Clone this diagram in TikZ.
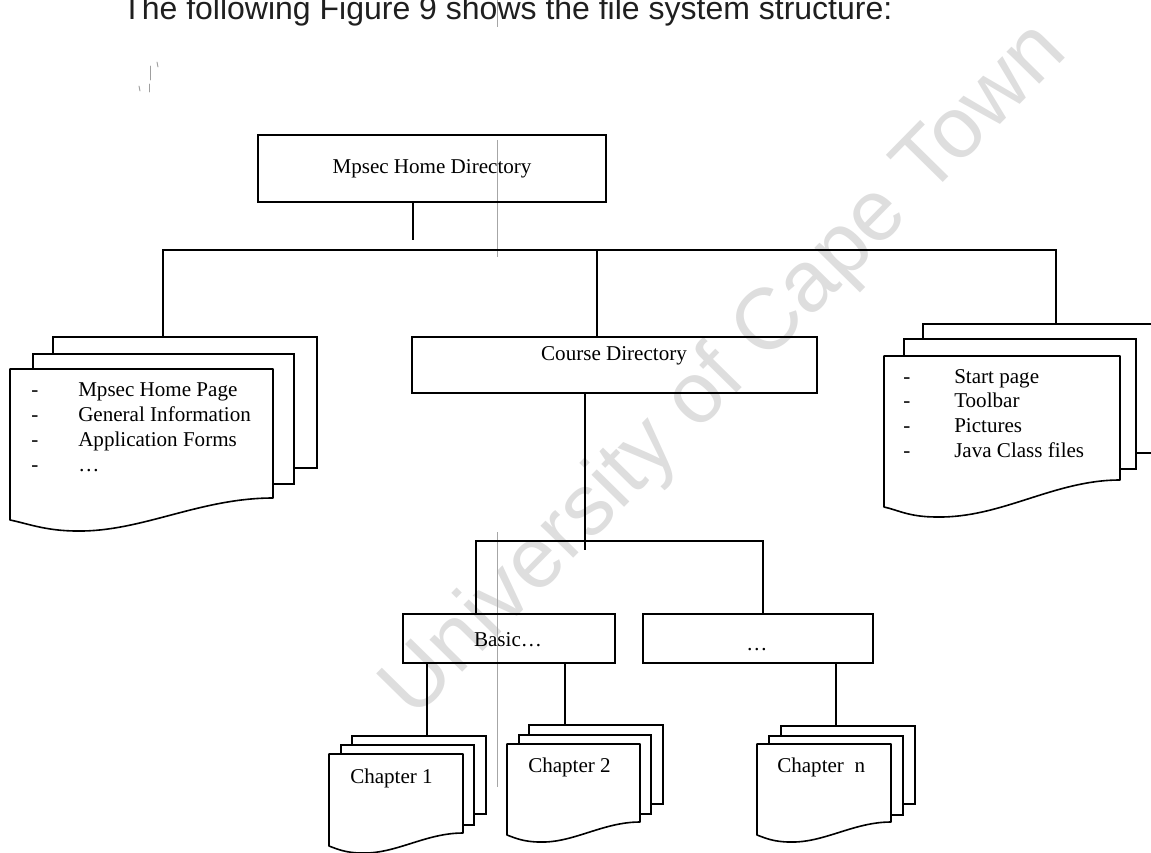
\documentclass[tikz,border=0pt]{standalone}
\usepackage{fontspec}
\setmainfont{Liberation Serif}
\newfontfamily\headfont{Liberation Sans}
\newcommand\pxu{0.75pt}
\newcommand\boxsize{\fontsize{15.8pt}{19pt}\selectfont}
\newcommand\headsize{\fontsize{24pt}{28pt}\selectfont}
\newcommand\wmsize{\fontsize{65pt}{70pt}\selectfont}

% front sheet of a document stack: left, top, right, right-bottom, left-bottom, dip depth, dip x
\newcommand\frontsheet[7]{%
  \draw[sheetline] (#1,#5) -- (#1,#2) -- (#3,#2) -- (#3,#4)
    .. controls ({#3-0.28*(#3-#1)},#4) and ({#1+0.5*(#3-#1)},{#6+1}) .. (#7,#6)
    .. controls ({#7-0.12*(#3-#1)},#6) and ({#1+0.06*(#3-#1)},{#5+3}) .. (#1,#5) -- cycle;}

\begin{document}
\begin{tikzpicture}[x=0.75pt,y=-0.75pt,
  wire/.style={line width=1.2pt, black},
  dirbox/.style={draw, line width=1.2pt, rectangle, inner sep=0pt},
  sheet/.style={draw, fill=white, line width=1.2pt, rectangle, inner sep=0pt, anchor=north west},
  sheetline/.style={draw, fill=white, line width=1.2pt, line join=round},
  txt/.style={font=\boxsize, inner sep=0pt},
  item/.style={txt, anchor=base west},
  crease/.style={gray!70, line width=0.6pt},
  speck/.style={gray!75, line width=0.7pt, line cap=round},
  wm/.style={font=\headfont\wmsize, text=black!13, rotate=45.5, inner sep=0pt}]
\useasboundingbox (0,0) rectangle (1151,852);
\clip (0,0) rectangle (1151,852);

% watermark behind the drawing
\node[wm] (wm) at (726,372) {University of Cape Town};

% thin crease across the page
\draw[crease] (497,0) -- (497,27);
\draw[crease] (497,140) -- (497,257);
\draw[crease] (497,532) -- (497,787);

% small pen marks
\draw[speck] (150,66) -- (150,80);
\draw[speck] (149,84) -- (149,92);
\draw[speck] (157,62) -- (158,67);
\draw[speck] (139,86) -- (140,91);

% heading
\node[anchor=base west, font=\headfont\headsize, inner sep=0pt, text=black!88] (title) at (122,20)
  {The following Figure 9 shows the file system structure:};

% directory boxes
\node[dirbox, minimum width=348*\pxu, minimum height=67*\pxu] (home) at (432,168.5) {};
\node[txt, anchor=base] (homeT) at (432,173.5) {Mpsec Home Directory};
\node[dirbox, minimum width=405*\pxu, minimum height=56*\pxu] (course) at (614.5,365) {};
\node[txt, anchor=base] (courseT) at (614,360) {Course Directory};
\node[dirbox, minimum width=212*\pxu, minimum height=49*\pxu] (basic) at (509,638.5) {};
\node[txt, anchor=base] (basicT) at (508,646) {Basic…};
\node[dirbox, minimum width=230*\pxu, minimum height=49*\pxu] (more) at (758,638.5) {};
\node[txt, anchor=base] (moreT) at (757,650) {…};

% left document stack
\node[sheet, minimum width=264*\pxu, minimum height=131*\pxu] (lback) at (52,336) {};
\node[sheet, minimum width=261*\pxu, minimum height=130*\pxu] (lmid) at (32,353) {};
\coordinate (lfront) at (10,369);
\frontsheet{10}{369}{273}{498}{520}{531}{77}
\node[item] (l1d) at (31,396) {-};
\node[item] (l1) at (78,396) {Mpsec Home Page};
\node[item] (l2d) at (31,421) {-};
\node[item] (l2) at (78,421) {General Information};
\node[item] (l3d) at (31,446) {-};
\node[item] (l3) at (78,446) {Application Forms};
\node[item] (l4d) at (31,471) {-};
\node[item] (l4) at (78,471) {…};

% right document stack
\node[sheet, minimum width=240*\pxu, minimum height=129*\pxu] (rback) at (922,323) {};
\node[sheet, minimum width=232*\pxu, minimum height=130*\pxu] (rmid) at (903,338) {};
\coordinate (rfront) at (884,356);
\frontsheet{884}{356}{1120}{480}{507}{517}{937}
\node[item] (r1d) at (903,383) {-};
\node[item] (r1) at (954,383) {Start page};
\node[item] (r2d) at (903,407) {-};
\node[item] (r2) at (954,407) {Toolbar};
\node[item] (r3d) at (903,432) {-};
\node[item] (r3) at (954,432) {Pictures};
\node[item] (r4d) at (903,457) {-};
\node[item] (r4) at (954,457) {Java Class files};

% chapter stacks
\node[sheet, minimum width=134*\pxu, minimum height=78*\pxu] (c1back) at (351,735) {};
\node[sheet, minimum width=133*\pxu, minimum height=80*\pxu] (c1mid) at (340,744) {};
\coordinate (c1front) at (329,754);
\frontsheet{329}{754}{463}{833}{846}{853}{362}
\node[item] (c1T) at (350,783) {Chapter 1};

\node[sheet, minimum width=134*\pxu, minimum height=79*\pxu] (c2back) at (528,724) {};
\node[sheet, minimum width=132*\pxu, minimum height=79*\pxu] (c2mid) at (518,734) {};
\coordinate (c2front) at (507,744);
\frontsheet{507}{744}{640}{822}{835}{842}{540}
\node[item] (c2T) at (528,772) {Chapter 2};

\node[sheet, minimum width=134*\pxu, minimum height=78*\pxu] (cnback) at (780,725) {};
\node[sheet, minimum width=134*\pxu, minimum height=79*\pxu] (cnmid) at (768,735) {};
\coordinate (cnfront) at (757,744);
\frontsheet{757}{744}{891}{822}{835}{842}{790}
\node[item] (cnT) at (777,772) {Chapter\hspace{0.5em}n};

% connector positions
\coordinate (homeStub) at (413,240);
\coordinate (busL) at (163,250);
\coordinate (busC) at (597,250);
\coordinate (busR) at (1056,250);
\coordinate (subC) at (585,541);
\coordinate (subTick) at (585,550);
\coordinate (subL) at (476,541);
\coordinate (subR) at (763,541);
\coordinate (k1) at (427,700);
\coordinate (k2) at (565,700);
\coordinate (kn) at (836,700);

% connectors
\draw[wire] (home.south -| homeStub) -- (homeStub);
\draw[wire] (lback.north -| busL) -- (busL) -- (busR) -- (rback.north -| busR);
\draw[wire] (busC) -- (course.north -| busC);
\draw[wire] (course.south -| subC) -- (subTick);
\draw[wire] (basic.north -| subL) -- (subL) -- (subR) -- (more.north -| subR);
\draw[wire] (basic.south -| k1) -- (c1back.north -| k1);
\draw[wire] (basic.south -| k2) -- (c2back.north -| k2);
\draw[wire] (more.south -| kn) -- (cnback.north -| kn);
\end{tikzpicture}
\end{document}
